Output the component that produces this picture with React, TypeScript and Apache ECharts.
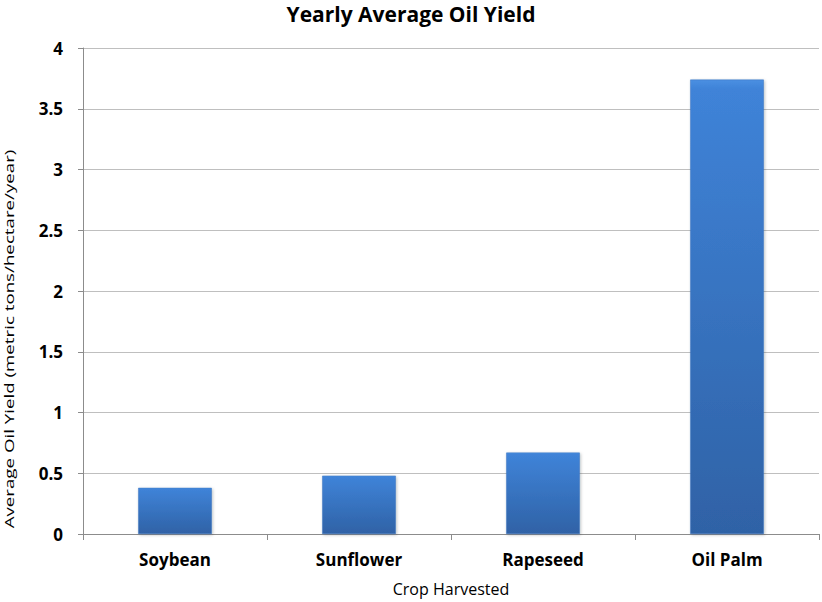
import React, { useEffect, useRef } from "react";
import * as echarts from "echarts";

const categories = ["Soybean", "Sunflower", "Rapeseed", "Oil Palm"];
const yieldValues = [0.38, 0.48, 0.67, 3.74];
const yTicks = { min: 0, max: 4, interval: 0.5 };
const titleText = "Yearly Average Oil Yield";
const xName = "Crop Harvested";
const yName = "Average Oil Yield (metric tons/hectare/year)";

export default function App() {
  const ref = useRef<HTMLDivElement>(null);
  useEffect(() => {
    if (!ref.current) return;
    const chart = echarts.init(ref.current, null, { renderer: "svg" });
    chart.setOption({
      animation: false,
      backgroundColor: "#ffffff",
      title: {
        text: titleText,
        left: "center",
        top: -2,
        textStyle: { fontFamily: "Open Sans", fontWeight: "bold", fontSize: 21, color: "#000" },
      },
      grid: { left: 83, right: 3, top: 48, bottom: 68 },
      xAxis: {
        type: "category",
        data: categories,
        name: xName,
        nameLocation: "middle",
        nameGap: 47,
        nameTextStyle: { fontFamily: "Open Sans", fontSize: 16, color: "#000" },
        axisLine: { lineStyle: { color: "#8c8c8c" } },
        axisTick: { show: true, length: 6, lineStyle: { color: "#8c8c8c" } },
        axisLabel: { fontFamily: "Open Sans", fontWeight: "bold", fontSize: 17, color: "#000", margin: 17 },
      },
      yAxis: {
        type: "value",
        min: yTicks.min,
        max: yTicks.max,
        interval: yTicks.interval,
        axisLine: { show: true, lineStyle: { color: "#8c8c8c" } },
        axisTick: { show: true, length: 5, lineStyle: { color: "#8c8c8c" } },
        splitLine: { lineStyle: { color: "#bfbfbf" } },
        axisLabel: { fontFamily: "Open Sans", fontWeight: "bold", fontSize: 17, color: "#000", margin: 20 },
      },
      graphic: [
        {
          type: "text",
          x: 9,
          y: 339,
          rotation: Math.PI / 2,
          scaleX: 1.44,
          style: {
            text: yName,
            fontFamily: "Open Sans",
            fontSize: 13,
            fill: "#000",
            textAlign: "center",
            textVerticalAlign: "middle",
          },
        },
      ],
      series: [
        {
          type: "bar",
          data: yieldValues,
          barWidth: "40%",
          itemStyle: {
            color: new echarts.graphic.LinearGradient(0, 0, 0, 1, [
              { offset: 0, color: "#4a90e2" },
              { offset: 0.02, color: "#3f83d8" },
              { offset: 1, color: "#2f62a6" },
            ]),
            borderColor: "#3a73bf",
            borderWidth: 0.5,
            shadowColor: "rgba(0,0,0,0.25)",
            shadowBlur: 3,
            shadowOffsetX: 1,
            shadowOffsetY: 1,
          },
        },
      ],
    });
    return () => chart.dispose();
  }, []);
  return (
    <div
      ref={ref}
      style={{ position: "absolute", left: 0, top: 0, width: 822, height: 602 }}
    />
  );
}
